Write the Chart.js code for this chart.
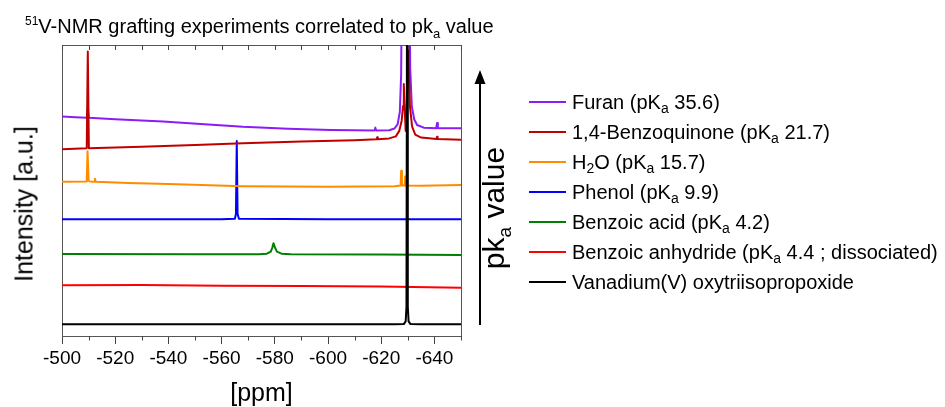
<!DOCTYPE html>
<html>
<head>
<meta charset="utf-8">
<script src="https://cdn.jsdelivr.net/npm/chart.js@4.4.0/dist/chart.umd.min.js"></script>
<style>
  body { margin: 0; background: #fff; font-family: "Liberation Sans", Arial, sans-serif; }
  #wrap { position: relative; width: 945px; height: 407px; overflow: hidden; }
  #c { position: absolute; left: 0; top: 0; }
  .txt { position: absolute; color: #000; white-space: nowrap; }
  .sub { position: relative; }
</style>
</head>
<body>
<div id="wrap">
  <canvas id="c" width="945" height="407"></canvas>
  <div class="txt" id="title" style="left:25px; top:16px; font-size:20px; line-height:20px;">
    <span class="sub" style="font-size:12px; top:-8px;">51</span>V-NMR grafting experiments correlated to pk<span class="sub" style="font-size:13px; top:5px;">a</span> value
  </div>
  <div class="txt" id="ytitle" style="left:24px; top:204px; font-size:25px; line-height:25px; transform:translate(-50%,-50%) rotate(-90deg);">Intensity [a.u.]</div>
  <div class="txt" id="pka" style="left:496px; top:208px; font-size:30px; line-height:30px; transform:translate(-50%,-50%) rotate(-90deg);">pk<span class="sub" style="font-size:19px; top:7px;">a</span> value</div>
  <svg class="txt" style="left:0; top:0;" width="945" height="407">
    <line x1="480" y1="82" x2="480" y2="325" stroke="#000" stroke-width="2"/>
    <polygon points="480,70 474.5,84 485.5,84" fill="#000"/>
  </svg>
  <div id="legend"></div>
</div>
<script>
// 51V-NMR spectra, [ppm, intensity] (offset stacked)
const furan = [[-500,75.4],[-505,75.2],[-509.3,75.0],[-509.7,78.5],[-510.1,75.0],[-520,74.5],[-538,73.7],[-555,72.7],
  [-568,71.9],[-585,71.2],[-601,70.8],[-617.5,70.6],[-617.8,71.6],[-618.1,70.6],[-623,70.7],[-625,71.3],[-626.2,72.8],
  [-627.0,77],[-627.5,90],[-627.9,140],[-629.2,125],[-630.5,140],[-630.9,92],[-631.5,79],[-632.4,74.5],[-633.5,72.5],
  [-636,71.6],[-640.7,71.4],[-641,73.2],[-641.3,71.4],[-650,71.4]];
const benzoquinone = [[-500,64.2],[-509.3,64.5],[-509.7,97.8],[-510.1,64.5],[-530,65.0],[-550,65.6],[-568,66.2],[-590,66.8],
  [-610,67.3],[-618.3,67.6],[-618.5,68.3],[-618.7,67.6],[-623,67.9],[-625.5,68.6],[-626.8,70.5],[-627.7,74],[-628.2,79],
  [-628.5,86.6],[-628.8,79],[-629.2,70.5],[-629.6,76],[-629.85,92],[-630.05,140],[-630.3,95],[-630.8,79],[-631.6,72],
  [-632.8,69.2],[-635,68.2],[-640.8,67.7],[-641,68.5],[-641.2,67.7],[-650,67.4]];
const water = [[-500,53.0],[-509.3,53.1],[-509.6,63.5],[-510.0,53.4],[-510.5,53.1],[-512.1,53.0],[-512.4,54.0],[-512.7,53.0],
  [-525,52.6],[-540,52.2],[-568,51.5],[-600,51.3],[-625,51.5],[-627.3,51.7],[-627.5,56.8],[-627.8,51.7],[-628.8,51.7],
  [-629.0,54.8],[-629.3,51.7],[-635,51.6],[-650,51.9]];
const phenol = [[-500,40.1],[-560,40.1],[-565,40.3],[-565.4,42],[-565.7,67],[-566.0,42],[-566.5,40.3],[-600,40.1],[-650,40.1]];
const benzoicAcid = [[-500,28.2],[-550,28.1],[-574,28.1],[-577,28.3],[-578.5,29.0],[-579.1,30.5],[-579.5,31.9],[-580.0,30.5],
  [-580.8,29.0],[-582.5,28.3],[-586,28.1],[-620,28.0],[-650,27.8]];
const anhydride = [[-500,17.4],[-530,17.5],[-560,17.3],[-590,17.2],[-620,17.0],[-650,16.6]];
const vanadium = [[-500,4.0],[-625,4.0],[-628.5,4.1],[-629.2,5],[-629.5,10],[-629.75,140],[-630.0,10],[-630.3,5],[-631,4.1],
  [-635,4.0],[-650,4.0]];

const series = [furan, benzoquinone, water, phenol, benzoicAcid, anhydride, vanadium];
const labels = ['Furan (pK_a 35.6)', '1,4-Benzoquinone (pK_a 21.7)', 'H_2O (pK_a 15.7)', 'Phenol (pK_a 9.9)',
  'Benzoic acid (pK_a 4.2)', 'Benzoic anhydride (pK_a 4.4 ; dissociated)', 'Vanadium(V) oxytriisopropoxide'];
const colors = ['#8b1cf7', '#c00000', '#ff8c00', '#0000ff', '#008000', '#ff0000', '#000000'];
const drawOrder = [2, 1, 3, 4, 5, 6, 0];
const tickValues = [-500, -520, -540, -560, -580, -600, -620, -640];
const xMin = -650, xMax = -500;

// legend with subscripts
const legend = document.getElementById('legend');
labels.forEach((lab, i) => {
  const cy = 101.7 + i * 30.1;
  const line = document.createElement('div');
  line.style.cssText = `position:absolute;left:529px;top:${cy - 1}px;width:37px;height:2px;background:${colors[i]};`;
  legend.appendChild(line);
  const t = document.createElement('div');
  t.className = 'txt';
  t.style.cssText = `left:572px;top:${cy - 11}px;font-size:20px;line-height:22px;`;
  t.innerHTML = lab.replace(/_(\w)/g, '<span class="sub" style="font-size:14px;top:4px;">$1</span>');
  legend.appendChild(t);
});

const frameTicks = {
  id: 'frameTicks',
  afterDraw(chart) {
    const {ctx, chartArea: a, scales: {x}} = chart;
    ctx.save();
    ctx.strokeStyle = '#444';
    ctx.lineWidth = 1;
    ctx.beginPath();
    for (let v = xMax; v >= xMin; v -= 10) {
      const px = Math.round(x.getPixelForValue(v)) + 0.5;
      ctx.moveTo(px, a.top);
      ctx.lineTo(px, a.top + 5);
      if (v % 20 !== 0) {
        ctx.moveTo(px, a.bottom);
        ctx.lineTo(px, a.bottom + 4.5);
      }
    }
    ctx.stroke();
    ctx.restore();
  }
};

new Chart(document.getElementById('c'), {
  type: 'line',
  data: {
    datasets: series.map((s, i) => ({
      label: labels[i],
      data: s.map(p => ({x: p[0], y: p[1]})),
      borderColor: colors[i],
      borderWidth: 2,
      borderJoinStyle: 'round',
      pointRadius: 0,
      tension: 0,
      fill: false,
      clip: 0,
      order: drawOrder[i],
    })),
  },
  options: {
    responsive: false,
    animation: false,
    events: [],
    layout: { padding: { left: 0, top: 45, right: 484, bottom: 0 } },
    plugins: { legend: { display: false }, tooltip: { enabled: false } },
    scales: {
      x: {
        type: 'linear',
        position: 'bottom',
        min: xMin,
        max: xMax,
        reverse: true,
        afterBuildTicks: (scale) => { scale.ticks = tickValues.map(v => ({value: v})); },
        afterFit: (scale) => { scale.height = 71; },
        grid: { drawOnChartArea: false, tickLength: 8, color: '#444' },
        border: { display: true, color: '#555', width: 1 },
        ticks: {
          color: '#000',
          padding: 3,
          maxRotation: 0,
          font: { family: '"Liberation Sans", Arial, sans-serif', size: 19 },
        },
        title: {
          display: true,
          text: '[ppm]',
          color: '#000',
          padding: { top: 0, bottom: 0 },
          font: { family: '"Liberation Sans", Arial, sans-serif', size: 25, lineHeight: 1 },
        },
      },
      x2: {
        type: 'linear',
        position: 'top',
        min: xMin,
        max: xMax,
        reverse: true,
        afterFit: (scale) => { scale.height = 0; },
        grid: { display: false, drawTicks: false },
        border: { display: true, color: '#555', width: 1 },
        ticks: { display: false },
      },
      y: {
        type: 'linear',
        position: 'left',
        min: 0,
        max: 100,
        afterFit: (scale) => { scale.width = 62; },
        grid: { display: false, drawTicks: false },
        border: { display: true, color: '#555', width: 1 },
        ticks: { display: false },
      },
      y2: {
        type: 'linear',
        position: 'right',
        min: 0,
        max: 100,
        afterFit: (scale) => { scale.width = 0; },
        grid: { display: false, drawTicks: false },
        border: { display: true, color: '#555', width: 1 },
        ticks: { display: false },
      },
    },
  },
  plugins: [frameTicks],
});
</script>
</body>
</html>
